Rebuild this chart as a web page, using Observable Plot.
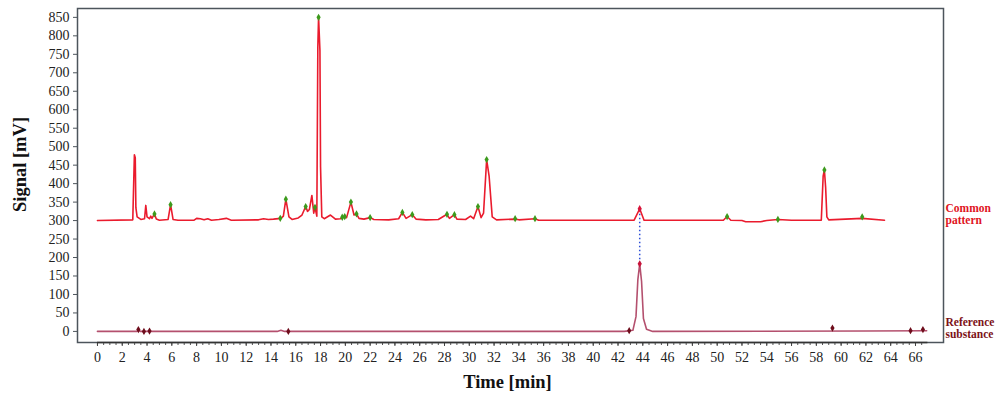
<!DOCTYPE html>
<html>
<head>
<meta charset="utf-8">
<script src="https://cdn.jsdelivr.net/npm/d3@7"></script>
<script src="https://cdn.jsdelivr.net/npm/@observablehq/plot@0.6"></script>
<style>
  html, body { margin: 0; padding: 0; background: #fff; }
  #chart { width: 1000px; height: 395px; }
</style>
</head>
<body>
<div id="chart"></div>
<script>
// ---- Data ----
// Common pattern trace (time [min], signal [mV])
const commonTime = [0, 2.85, 2.98, 3.05, 3.1, 3.2, 3.5, 3.8, 3.9, 4.0, 4.2, 4.3, 4.4, 4.6, 4.75, 5.0, 5.7, 5.9, 6.1, 6.5, 7.8, 8.0, 8.3, 8.6, 8.9, 9.2, 9.8, 10.4, 10.8, 13.0, 13.4, 13.8, 14.2, 14.8, 15.0, 15.2, 15.45, 15.7, 16.2, 16.5, 16.8, 16.95, 17.1, 17.3, 17.45, 17.55, 17.7, 17.78, 17.84, 17.95, 18.0, 18.1, 18.3, 18.8, 19.2, 19.6, 19.9, 20.1, 20.45, 20.7, 20.9, 21.1, 21.5, 22.0, 22.3, 23.5, 24.3, 24.6, 24.9, 25.4, 25.7, 26.5, 27.5, 28.2, 28.4, 28.8, 29.0, 29.7, 30.1, 30.35, 30.7, 30.95, 31.15, 31.4, 31.6, 31.85, 32.2, 33.7, 34.0, 35.3, 35.6, 43.3, 43.75, 44.1, 50.5, 50.8, 51.1, 52.0, 52.3, 53.5, 54.0, 54.9, 56.0, 58.4, 58.55, 58.65, 58.75, 58.85, 59.0, 61.7, 63.5];
const commonSignal = [300, 302, 478, 470, 335, 310, 303, 305, 341, 310, 305, 312, 306, 318, 304, 301, 303, 343, 303, 301, 301, 306, 305, 302, 305, 301, 303, 306, 301, 302, 305, 303, 304, 306, 312, 358, 310, 303, 307, 315, 338, 325, 330, 368, 320, 336, 312, 770, 850, 760, 445, 310, 305, 315, 304, 305, 310, 308, 350, 315, 318, 306, 304, 308, 303, 302, 305, 322, 306, 316, 304, 302, 303, 317, 306, 316, 304, 303, 312, 305, 338, 308, 320, 465, 420, 310, 302, 304, 302, 305, 301, 301, 332, 301, 301, 311, 301, 300, 297, 297, 300, 303, 301, 301, 420, 437, 390, 310, 302, 306, 301];

// Reference substance trace
const refTime = [0, 3.2, 3.3, 3.45, 14.5, 14.8, 15.1, 42.5, 43.2, 43.45, 43.6, 43.75, 43.9, 44.05, 44.3, 44.8, 62.0, 66.9];
const refSignal = [0, 0, 5, 0, 0, 3, 0, 0, 3, 40, 140, 183, 135, 35, 6, 0, 1, 2];

// Detected peaks on the common pattern (green markers)
const commonPeakTime = [4.6, 5.9, 14.75, 15.2, 16.8, 17.55, 17.84, 19.75, 19.95, 20.45, 20.9, 22.0, 24.6, 25.4, 28.2, 28.8, 30.7, 31.4, 33.7, 35.3, 50.8, 54.9, 58.65, 61.7];
const commonPeakSignal = [318, 343, 306, 358, 338, 336, 850, 309, 311, 350, 318, 308, 322, 316, 317, 316, 338, 465, 305, 305, 311, 303, 437, 310];

// Detected peaks on the reference substance (dark red markers)
const refPeakTime = [3.3, 3.75, 4.2, 15.4, 42.9, 59.3, 65.6, 66.6];
const refPeakSignal = [5, 0, 1, 0, 2, 9, 2, 5];

// Matched peak (common pattern <-> reference)
const matchTime = [43.75];
const matchCommon = [332];
const matchRef = [183];

// Series labels
const seriesLabels = ["Common\npattern", "Reference\nsubstance"];

// Axis ticks
const yTicks = [0, 50, 100, 150, 200, 250, 300, 350, 400, 450, 500, 550, 600, 650, 700, 750, 800, 850];
const xTicks = d3.range(0, 67, 2);
const xMinorTicks = d3.range(0, 67, 0.5);

const commonData = commonTime.map((t, i) => ({t, v: commonSignal[i]}));
const refData = refTime.map((t, i) => ({t, v: refSignal[i]}));
const commonPeaks = commonPeakTime.map((t, i) => ({t, v: commonPeakSignal[i]}));
const refPeaks = refPeakTime.map((t, i) => ({t, v: refPeakSignal[i]}));
const matches = matchTime.map((t, i) => ({t, a: matchCommon[i], b: matchRef[i]}));

const serif = "Liberation Serif, DejaVu Serif, serif";

const chart = Plot.plot({
  width: 1000,
  height: 395,
  marginTop: 8,
  marginLeft: 77,
  marginRight: 57,
  marginBottom: 53,
  style: {fontFamily: serif, background: "#fff", overflow: "visible"},
  x: {domain: [-1.61, 68.26]},
  y: {domain: [-30, 874]},
  marks: [
    Plot.frame({stroke: "#4d555c", strokeWidth: 1.5}),
    Plot.axisY({ticks: yTicks, tickSize: 4, tickPadding: 4, label: null, fontSize: 14, fill: "#222", stroke: "#4d555c"}),
    Plot.axisX({ticks: xMinorTicks, tickSize: 3, tickFormat: () => "", label: null, stroke: "#555"}),
    Plot.axisX({ticks: xTicks, tickSize: 4, tickPadding: 6, label: null, fontSize: 14, fill: "#222", stroke: "#444"}),
    Plot.ruleY([-30], {x1: 0, x2: 67, stroke: "#333", strokeWidth: 1.5}),
    Plot.line(refData, {x: "t", y: "v", stroke: "#b4506e", strokeWidth: 1.6}),
    Plot.line(commonData, {x: "t", y: "v", stroke: "#ea1b2d", strokeWidth: 1.6}),
    Plot.ruleX(matches, {x: "t", y1: "b", y2: "a", stroke: "#2e4fd6", strokeWidth: 1.5, strokeDasharray: "1.5,2.5"}),
    Plot.dot(commonPeaks, {x: "t", y: "v", symbol: "diamond", r: 2.2, fill: "#3c9a1c", stroke: "none"}),
    Plot.dot(refPeaks, {x: "t", y: "v", symbol: "diamond", r: 2.2, fill: "#6e0d1c", stroke: "none"}),
    Plot.dot(matches, {x: "t", y: "a", symbol: "diamond", r: 2.2, fill: "#d8143a", stroke: "none"}),
    Plot.dot(matches, {x: "t", y: "b", symbol: "diamond", r: 2.2, fill: "#c8143a", stroke: "none"}),
    // Axis titles
    Plot.text(["Signal [mV]"], {frameAnchor: "left", dx: -57, dy: -11, rotate: -90, fontSize: 18.5, fontWeight: "bold", fill: "#111", textAnchor: "middle"}),
    Plot.text(["Time [min]"], {frameAnchor: "bottom", dx: -3, dy: 45, lineAnchor: "bottom", fontSize: 18.5, fontWeight: "bold", fill: "#111"}),
    // Series labels on the right
    Plot.text([seriesLabels[0]], {frameAnchor: "top-right", dx: 2, dy: 215.5, textAnchor: "start", lineAnchor: "bottom", lineHeight: 1.05, fontSize: 11.5, fontWeight: "bold", fill: "#e0141e"}),
    Plot.text([seriesLabels[1]], {frameAnchor: "top-right", dx: 2, dy: 329.5, textAnchor: "start", lineAnchor: "bottom", lineHeight: 1.05, fontSize: 11.5, fontWeight: "bold", fill: "#7d1218"})
  ]
});
document.getElementById("chart").appendChild(chart);
</script>
</body>
</html>
